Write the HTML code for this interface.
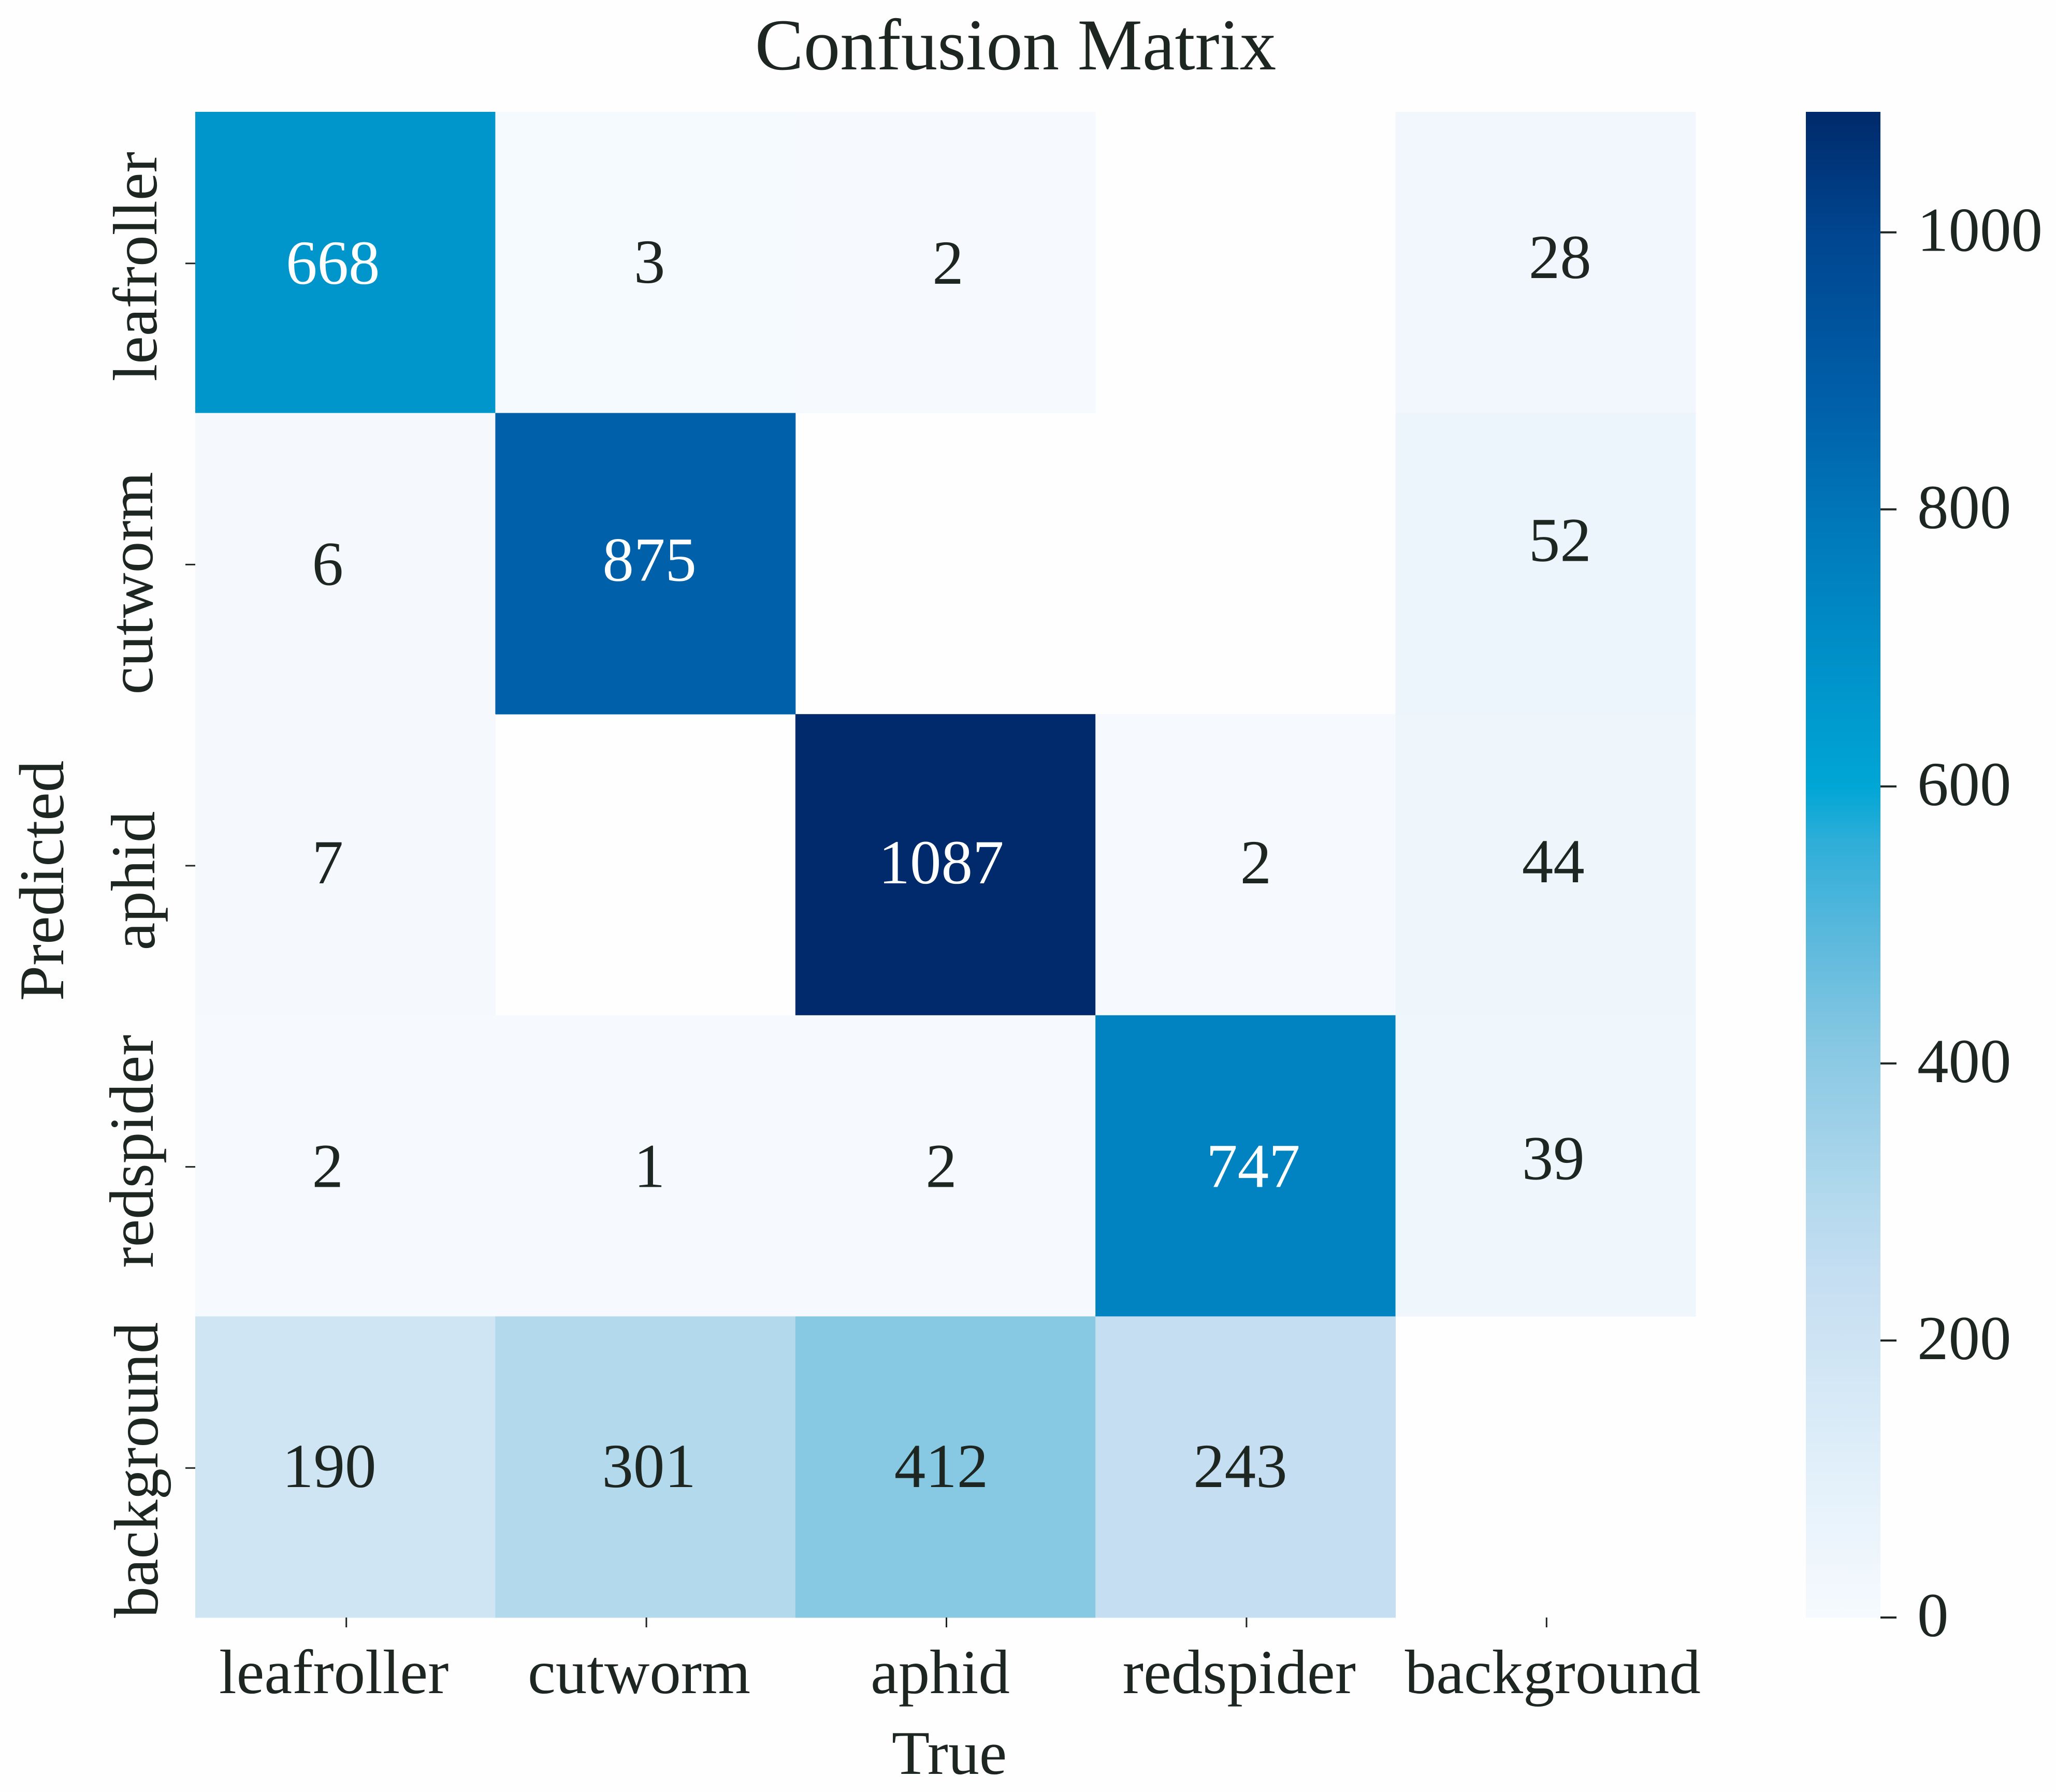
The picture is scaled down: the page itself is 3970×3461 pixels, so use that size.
<!DOCTYPE html>
<html lang="en">
<head>
<meta charset="utf-8">
<title>Confusion Matrix</title>
<style>
html,body{margin:0;padding:0;background:#fefefe;}
svg{display:block;}
text{font-family:"Liberation Serif",serif;fill:#1d2621;text-rendering:geometricPrecision;}
</style>
</head>
<body>
<svg id="chart" xmlns="http://www.w3.org/2000/svg" width="3970" height="3461" viewBox="0 0 3970 3461">
<rect x="0" y="0" width="3970" height="3461" fill="#fefefe"/>
<defs><linearGradient id="cbar-gradient" x1="0" y1="1" x2="0" y2="0"></linearGradient></defs>
<text x="1961" y="134" font-size="141" text-anchor="middle">Confusion Matrix</text>
<text x="1833" y="3426" font-size="120" text-anchor="middle">True</text>
<text transform="translate(122 1701) rotate(-90)" font-size="123" text-anchor="middle">Predicted</text>
<g id="cells"></g>
<g id="annotations"></g>
<g id="x-axis"></g>
<g id="y-axis"></g>
<g id="colorbar"></g>
</svg>
<script>
const categories = ["leafroller", "cutworm", "aphid", "redspider", "background"];
const matrixRow0 = [668, 3, 2, null, 28];
const matrixRow1 = [6, 875, null, null, 52];
const matrixRow2 = [7, null, 1087, 2, 44];
const matrixRow3 = [2, 1, 2, 747, 39];
const matrixRow4 = [190, 301, 412, 243, null];
const matrix = [matrixRow0, matrixRow1, matrixRow2, matrixRow3, matrixRow4];
const colorbarTicks = [0, 200, 400, 600, 800, 1000];
const colorMax = 1087;

const NS = "http://www.w3.org/2000/svg";
const PLOT = {left: 377, right: 3274, top: 216, bottom: 3124};
const CBAR = {left: 3487, right: 3631, top: 216, bottom: 3124};

function xScale(col) { return PLOT.left + (PLOT.right - PLOT.left) * col / categories.length; }
function yScale(row) { return PLOT.top + (PLOT.bottom - PLOT.top) * row / categories.length; }
function cbarScale(v) { return CBAR.bottom - (CBAR.bottom - CBAR.top) * v / colorMax; }

function colorRamp() {
  return [
    [0, "#f6fafe"], [0.092, "#e3f0fa"], [0.175, "#cfe5f4"], [0.224, "#c6def2"], [0.277, "#b3d9ed"],
    [0.379, "#87c8e3"], [0.46, "#56b7dc"], [0.515, "#2eaed9"], [0.552, "#00a6d5"], [0.615, "#0096cc"],
    [0.687, "#0083c0"], [0.736, "#0075b7"], [0.805, "#0060aa"], [0.92, "#00458f"], [1, "#002a6b"]
  ];
}
function hexToRgb(h) { return [1, 3, 5].map(function (i) { return parseInt(h.substr(i, 2), 16); }); }
function colorFor(v) {
  const ramp = colorRamp();
  const t = Math.max(0, Math.min(1, v / colorMax));
  for (let i = 1; i < ramp.length; i++) {
    if (t <= ramp[i][0]) {
      const a = ramp[i - 1], b = ramp[i], f = (t - a[0]) / (b[0] - a[0]);
      const ca = hexToRgb(a[1]), cb = hexToRgb(b[1]);
      return "rgb(" + ca.map(function (c, k) { return Math.round(c + (cb[k] - c) * f); }).join(",") + ")";
    }
  }
  return ramp[ramp.length - 1][1];
}
function make(tag, attrs, parent, txt) {
  const el = document.createElementNS(NS, tag);
  Object.keys(attrs).forEach(function (k) { el.setAttribute(k, attrs[k]); });
  if (txt !== undefined) el.textContent = txt;
  parent.appendChild(el);
  return el;
}
/* hand-placed annotation offsets seen in the reference, keyed by row/col */
function annotationNudge(r, c) {
  const nudges = {
    "0,0": [-24, 0], "0,1": [8, -2], "0,2": [5, 0], "0,4": [28, -11],
    "1,0": [-34, 0], "1,1": [8, -8], "1,4": [28, -46],
    "2,0": [-34, -5], "2,2": [-8, -5], "2,3": [20, -5], "2,4": [15, -7],
    "3,0": [-34, 0], "3,1": [8, 0], "3,2": [-8, 0], "3,3": [15, 0], "3,4": [15, -15],
    "4,0": [-31, -2], "4,1": [7, -2], "4,2": [-8, -2], "4,3": [-10, -2]
  };
  return nudges[r + "," + c] || [0, 0];
}
function tickLabelCentreX(i) {
  const off = [-22, -12, -10, -12, 14];
  return xScale(i) + (xScale(1) - xScale(0)) / 2 + off[i];
}
function tickLabelCentreY(i) {
  const off = [8, 38, 31, -28, 6];
  return yScale(i) + (yScale(1) - yScale(0)) / 2 + off[i];
}
function tickLabelBaseline(i) {
  const off = [302, 294, 298, 295, 304];
  return off[i];
}

const cellsG = document.getElementById("cells");
const annG = document.getElementById("annotations");
matrix.forEach(function (row, r) {
  row.forEach(function (v, c) {
    if (v === null) return;
    const rect = make("rect", {
      x: xScale(c), y: yScale(r),
      width: xScale(c + 1) - xScale(c) + 0.5,
      height: yScale(r + 1) - yScale(r) + 0.5,
      fill: colorFor(v)
    }, cellsG);
    
    
    const n = annotationNudge(r, c);
    const label = make("text", {
      x: (xScale(c) + xScale(c + 1)) / 2 + n[0],
      y: (yScale(r) + yScale(r + 1)) / 2 + 41 + n[1],
      "font-size": 121,
      "text-anchor": "middle",
      style: "fill:" + (v > 550 ? "#ffffff" : "#1d2621")
    }, annG, String(v));
    
    
  });
});

const xAxis = document.getElementById("x-axis");
const yAxis = document.getElementById("y-axis");
categories.forEach(function (name, i) {
  const cx = (xScale(i) + xScale(i + 1)) / 2 + 2;
  const xt = make("line", {x1: cx, x2: cx, y1: PLOT.bottom, y2: PLOT.bottom + 19, stroke: "#1d2621", "stroke-width": 3}, xAxis);
  
  
  const xl = make("text", {x: tickLabelCentreX(i), y: 3270, "font-size": 121, "text-anchor": "middle"}, xAxis, name);
  
  

  const cy = (yScale(i) + yScale(i + 1)) / 2 + 2;
  const yt = make("line", {x1: PLOT.left - 19, x2: PLOT.left, y1: cy, y2: cy, stroke: "#1d2621", "stroke-width": 3}, yAxis);
  
  
  const yl = make("text", {transform: "translate(" + tickLabelBaseline(i) + " " + tickLabelCentreY(i) + ") rotate(-90)", "font-size": 121, "text-anchor": "middle"}, yAxis, name);
  
  
});

const grad = document.getElementById("cbar-gradient");
colorRamp().forEach(function (s) {
  make("stop", {offset: s[0], "stop-color": s[1]}, grad);
});
const cbar = document.getElementById("colorbar");
const cbarRect = make("rect", {x: CBAR.left, y: CBAR.top, width: CBAR.right - CBAR.left, height: CBAR.bottom - CBAR.top, fill: "url(#cbar-gradient)"}, cbar);


colorbarTicks.forEach(function (v) {
  const y = cbarScale(v);
  const t = make("line", {x1: CBAR.right, x2: CBAR.right + 31, y1: y, y2: y, stroke: "#1d2621", "stroke-width": 4}, cbar);
  
  
  const l = make("text", {x: 3702, y: y + 36, "font-size": 121}, cbar, String(v));
  
  
});
</script>
</body>
</html>
